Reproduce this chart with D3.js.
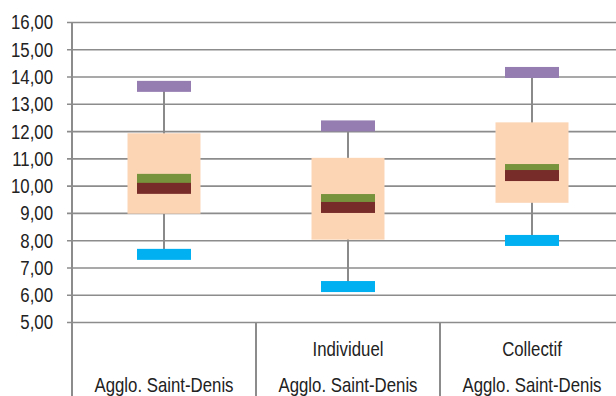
<!DOCTYPE html>
<html>
<head>
<meta charset="utf-8">
<script src="https://cdn.jsdelivr.net/npm/d3@7"></script>
<style>
  html, body { margin: 0; padding: 0; background: #fff; }
  svg { display: block; }
  text { font-family: "Liberation Sans", Arial, sans-serif; fill: #222; }
</style>
</head>
<body>
<div id="chart"></div>
<script>
// categories (two label lines each)
const catTop = ["", "Individuel", "Collectif"];
const catBottom = ["Agglo. Saint-Denis", "Agglo. Saint-Denis", "Agglo. Saint-Denis"];

// box plot values per category
const maxVals = [13.64, 12.19, 14.15];
const q3Vals = [11.92, 11.02, 12.32];
const meanVals = [10.23, 9.49, 10.59];
const medianVals = [9.90, 9.20, 10.37];
const q1Vals = [8.97, 8.02, 9.37];
const minVals = [7.48, 6.30, 7.99];

const yTicks = [5, 6, 7, 8, 9, 10, 11, 12, 13, 14, 15, 16];

const W = 616, H = 396;
const plotL = 72, plotT = 22, plotB = 322, plotR = 624;

const svg = d3.select("#chart").append("svg")
  .attr("width", W)
  .attr("height", H);

const ids = catBottom.map((d, i) => i);

const x = d3.scaleBand()
  .domain(ids)
  .range([plotL, plotR])
  .padding(0);

const y = d3.scaleLinear()
  .domain([5, 16])
  .range([plotB, plotT]);

const fmt = v => d3.format(".2f")(v).replace(".", ",");
const gridColor = "#8c8c8c";
const fs = "16.8px";

// gridlines + y axis
const yAxis = d3.axisLeft(y)
  .tickValues(yTicks)
  .tickSize(-(W - plotL))
  .tickFormat(fmt)
  .tickPadding(0);

const gy = svg.append("g")
  .attr("transform", `translate(${plotL},0)`)
  .call(yAxis);
gy.select(".domain").remove();
gy.selectAll(".tick line")
  .attr("x1", -5)
  .attr("stroke", gridColor)
  .attr("stroke-width", 1.6);
gy.selectAll(".tick text")
  .attr("x", 0)
  .attr("dy", null)
  .attr("fill", "#222")
  .style("font-size", fs)
  .attr("text-anchor", "end")
  .attr("dominant-baseline", "central")
  .attr("transform", "translate(-19,0) scale(1,1.17)");

// vertical axis line and category dividers
svg.append("line")
  .attr("x1", plotL).attr("x2", plotL)
  .attr("y1", plotT).attr("y2", H)
  .attr("stroke", gridColor).attr("stroke-width", 2);

svg.selectAll(".divider")
  .data(ids.slice(1))
  .enter()
  .append("line")
    .attr("x1", d => x(d)).attr("x2", d => x(d))
    .attr("y1", plotB).attr("y2", H)
    .attr("stroke", gridColor).attr("stroke-width", 2);

// category labels
const cx = i => x(i) + x.bandwidth() / 2;

svg.selectAll(".lblTop")
  .data(ids)
  .enter()
  .append("text")
    .attr("transform", d => `translate(${cx(d)},356) scale(1,1.17)`)
    .attr("text-anchor", "middle")
    .style("font-size", fs)
    .text(d => catTop[d]);

svg.selectAll(".lblBottom")
  .data(ids)
  .enter()
  .append("text")
    .attr("transform", d => `translate(${cx(d)},392) scale(1,1.17)`)
    .attr("text-anchor", "middle")
    .style("font-size", fs)
    .text(d => catBottom[d]);

// boxes
const boxW = 73, capW = 54, markH = 11;

const g = svg.append("g");

// whiskers
g.selectAll(".whisker")
  .data(ids)
  .enter()
  .append("line")
    .attr("x1", d => cx(d)).attr("x2", d => cx(d))
    .attr("y1", d => y(maxVals[d])).attr("y2", d => y(minVals[d]))
    .attr("stroke", "#8a8a8a").attr("stroke-width", 2);

// interquartile box
g.selectAll(".box")
  .data(ids)
  .enter()
  .append("rect")
    .attr("x", d => cx(d) - boxW / 2)
    .attr("width", boxW)
    .attr("y", d => y(q3Vals[d]))
    .attr("height", d => y(q1Vals[d]) - y(q3Vals[d]))
    .attr("fill", "#fcd5b5");

function marks(vals, color) {
  g.selectAll(null)
    .data(ids)
    .enter()
    .append("rect")
      .attr("x", d => cx(d) - capW / 2)
      .attr("width", capW)
      .attr("y", d => y(vals[d]) - markH / 2)
      .attr("height", markH)
      .attr("fill", color);
}

marks(maxVals, "#957db1");
marks(minVals, "#00b0f0");
marks(meanVals, "#77933c");
marks(medianVals, "#772c2a");
</script>
</body>
</html>
